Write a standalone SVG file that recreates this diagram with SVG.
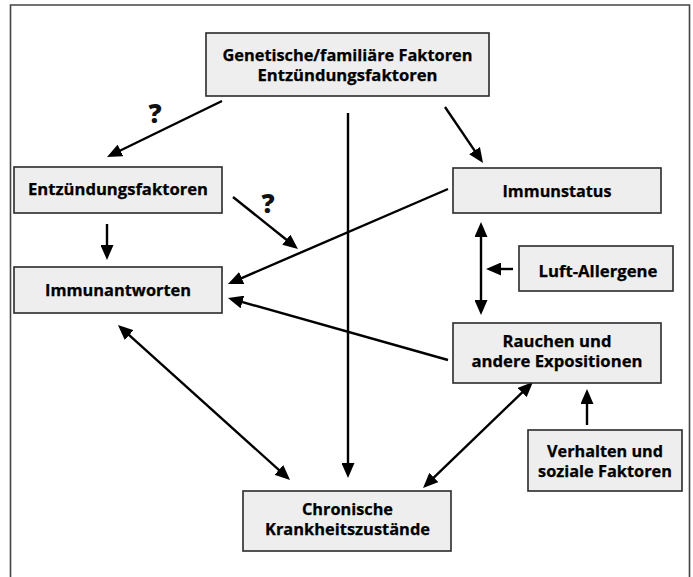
<svg xmlns="http://www.w3.org/2000/svg" width="693" height="577" viewBox="0 0 693 577">
<style>
.box{fill:#eeeeee;stroke:#2a2a2a;stroke-width:1.6}
.t{font-family:"Open Sans","Noto Sans",sans-serif;font-weight:700;font-size:16px;fill:#000;text-anchor:middle;stroke:#000;stroke-width:0.25}
.q{font-family:"Open Sans","Noto Sans",sans-serif;font-weight:800;font-size:26px;fill:#111;text-anchor:middle}
.c{stroke:#000;stroke-width:2.4;fill:none;marker-end:url(#ah)}
.d{marker-start:url(#ah)}
</style>
<defs>
<marker id="ah" markerUnits="userSpaceOnUse" markerWidth="15" markerHeight="13" refX="7" refY="6.5" orient="auto-start-reverse" viewBox="0 0 15 13">
<path d="M0,0 L15,6.5 L0,13 z" fill="#000"/>
</marker>
</defs>
<rect width="693" height="577" fill="#fff"/>
<path d="M10.5,577 V5 H689.5 V577" fill="none" stroke="#444" stroke-width="1.6"/>
<g id="connectors">
<line class="c" x1="222" y1="101" x2="114.2" y2="153.5"/>
<line class="c" x1="348" y1="113" x2="348" y2="470"/>
<line class="c" x1="445" y1="107" x2="478.5" y2="156.4"/>
<line class="c" x1="107" y1="224" x2="107" y2="252"/>
<line class="c" x1="233" y1="197" x2="291.75" y2="244"/>
<line class="c" x1="448" y1="189" x2="235.3" y2="280.8"/>
<line class="c" x1="448" y1="360" x2="235.7" y2="300.2"/>
<line class="c d" x1="481" y1="230" x2="481" y2="307"/>
<line class="c" x1="513" y1="269" x2="494" y2="269"/>
<line class="c" x1="587" y1="425" x2="587" y2="397"/>
<line class="c d" x1="527.2" y1="387.6" x2="428.8" y2="482.4"/>
<line class="c d" x1="123.9" y1="330.4" x2="284.1" y2="474.6"/>
<text class="q" x="155" y="123">?</text>
<text class="q" x="268" y="213">?</text>
</g>
<g id="genetische">
<rect class="box" x="206" y="33" width="283" height="63"/>
<text class="t" x="347.5" y="61" textLength="250" lengthAdjust="spacingAndGlyphs">Genetische/familiäre Faktoren</text>
<text class="t" x="347.5" y="81" textLength="180" lengthAdjust="spacingAndGlyphs">Entzündungsfaktoren</text>
</g>
<g id="entzuendung">
<rect class="box" x="14" y="167" width="208" height="46"/>
<text class="t" x="118" y="195" textLength="180" lengthAdjust="spacingAndGlyphs">Entzündungsfaktoren</text>
</g>
<g id="immunantworten">
<rect class="box" x="14" y="267" width="208" height="46"/>
<text class="t" x="118" y="296" textLength="146" lengthAdjust="spacingAndGlyphs">Immunantworten</text>
</g>
<g id="immunstatus">
<rect class="box" x="453" y="168" width="208" height="45"/>
<text class="t" x="557" y="197" textLength="109" lengthAdjust="spacingAndGlyphs">Immunstatus</text>
</g>
<g id="luft">
<rect class="box" x="519" y="246" width="154" height="45"/>
<text class="t" x="598" y="277" textLength="119" lengthAdjust="spacingAndGlyphs">Luft-Allergene</text>
</g>
<g id="rauchen">
<rect class="box" x="453" y="323" width="208" height="60"/>
<text class="t" x="557" y="347" textLength="109" lengthAdjust="spacingAndGlyphs">Rauchen und</text>
<text class="t" x="557" y="367" textLength="171" lengthAdjust="spacingAndGlyphs">andere Expositionen</text>
</g>
<g id="verhalten">
<rect class="box" x="528" y="430" width="154" height="61"/>
<text class="t" x="605" y="457" textLength="116" lengthAdjust="spacingAndGlyphs">Verhalten und</text>
<text class="t" x="605" y="477" textLength="134" lengthAdjust="spacingAndGlyphs">soziale Faktoren</text>
</g>
<g id="chronisch">
<rect class="box" x="243" y="491" width="208" height="60"/>
<text class="t" x="347.5" y="515" textLength="91" lengthAdjust="spacingAndGlyphs">Chronische</text>
<text class="t" x="347.5" y="535" textLength="165" lengthAdjust="spacingAndGlyphs">Krankheitszustände</text>
</g>
</svg>
